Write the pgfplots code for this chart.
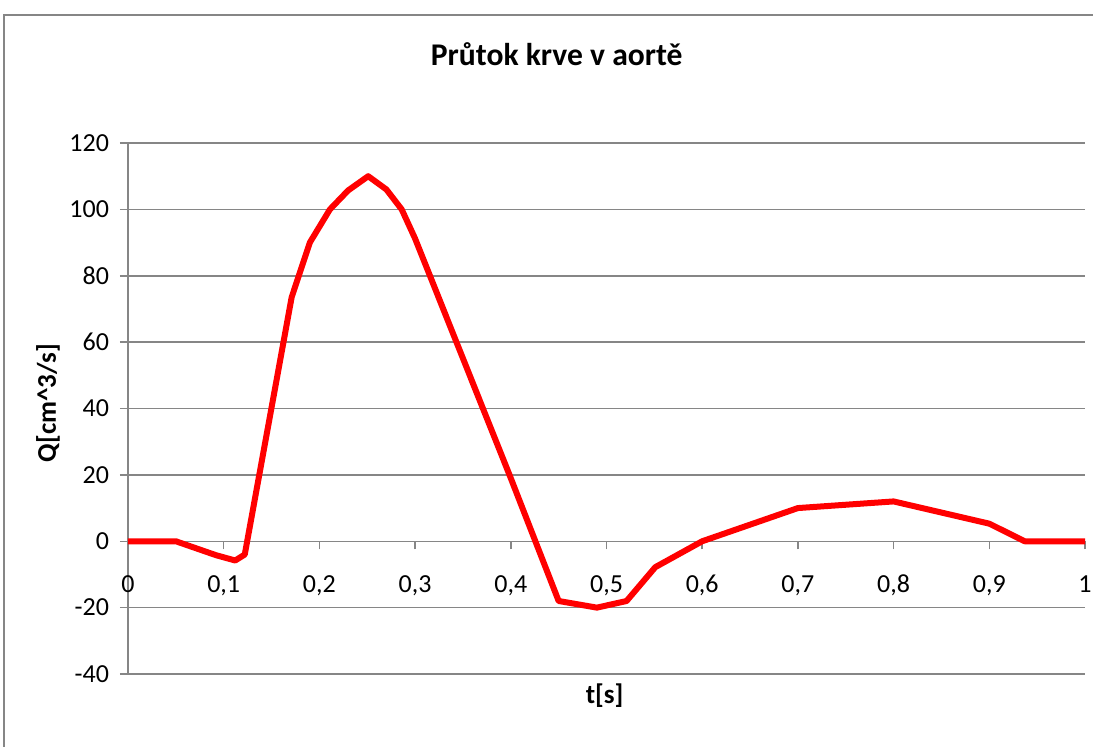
\documentclass[border=0pt]{standalone}
\usepackage{pgfplots}
\pgfplotsset{compat=1.18}
\usepackage{fontspec}
\setmainfont{Carlito}
\definecolor{gridgray}{RGB}{134,134,134}
\begin{document}
\begin{tikzpicture}
\useasboundingbox (-64pt,-36pt) rectangle (482.5pt,337pt);
\begin{axis}[
  at={(0,0)}, anchor=south west,
  scale only axis, width=478.5pt, height=265.5pt,
  xmin=0, xmax=1, ymin=-40, ymax=120,
  axis x line=middle, axis y line=left,
  hide obscured x ticks=false,
  axis line style={gridgray, line width=0.75pt, -},
  xtick={0,0.1,0.2,0.3,0.4,0.5,0.6,0.7,0.8,0.9,1},
  ytick={-40,-20,0,20,40,60,80,100,120},
  ymajorgrids, grid style={gridgray, line width=0.75pt},
  tick style={gridgray, line width=0.75pt},
  tick align=outside, major tick length=4pt,
  /pgf/number format/assume math mode=true,
  /pgf/number format/use comma,
  ticklabel style={font=\fontsize{13}{15}\selectfont},
  xticklabel style={anchor=base, yshift=-21.5pt},
  yticklabel style={anchor=east, xshift=-2pt},
  title={Průtok krve v aortě},
  title style={font=\fontsize{15.8}{18}\selectfont\bfseries, at={(axis description cs:0.448,1)}, anchor=base, yshift=33pt},
  xlabel={t[s]},
  xlabel style={font=\fontsize{13.5}{15}\selectfont\bfseries, at={(axis description cs:0.498,0)}, anchor=center, yshift=-11pt},
  ylabel={Q[cm\^{}3/s]},
  ylabel style={font=\fontsize{13.5}{15}\selectfont\bfseries, at={(axis description cs:-0.0836,0.51)}, anchor=center},
  clip=false,
]
\addplot[red, line width=3pt, line join=round] coordinates {
(0,0) (0.05,0) (0.092,-4.2) (0.112,-5.8) (0.122,-4) (0.171,73.5) (0.19,90)
(0.211,100) (0.23,105.7) (0.251,110) (0.27,106) (0.286,100) (0.3,91.2)
(0.4,19) (0.45,-18) (0.49,-20) (0.521,-18) (0.551,-7.8) (0.6,0)
(0.7,10) (0.8,12) (0.9,5.3) (0.937,0) (1,0)
};
\end{axis}
\draw[gridgray, line width=1pt] (-62pt,-40pt) -- (-62pt,329.5pt) -- (485pt,329.5pt);
\end{tikzpicture}
\end{document}
